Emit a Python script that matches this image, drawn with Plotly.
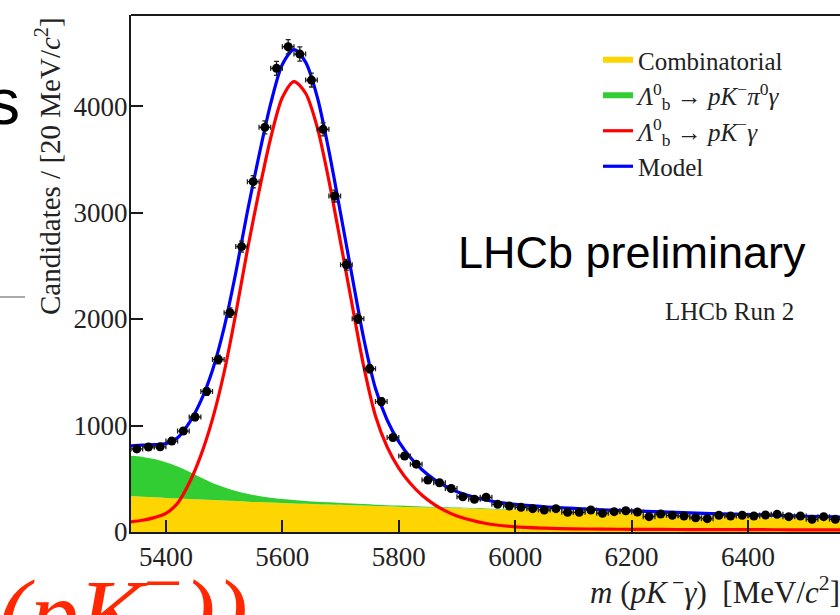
import numpy as np
import plotly.graph_objects as go

# ---------------- data ----------------
bin_centers = [5350, 5370, 5390, 5410, 5430, 5450, 5470, 5490, 5510, 5530,
               5550, 5570, 5590, 5610, 5630, 5650, 5670, 5690, 5710, 5730,
               5750, 5770, 5790, 5810, 5830, 5850, 5870, 5890, 5910, 5930,
               5950, 5970, 5990, 6010, 6030, 6050, 6070, 6090, 6110, 6130,
               6150, 6170, 6190, 6210, 6230, 6250, 6270, 6290, 6310, 6330,
               6350, 6370, 6390, 6410, 6430, 6450, 6470, 6490, 6510, 6530,
               6550]
counts = [780, 798, 800, 854, 948, 1080, 1320, 1620, 2060, 2680,
          3290, 3800, 4354, 4557, 4488, 4244, 3781, 3155, 2510, 2003,
          1533, 1225, 887, 714, 637, 488, 462, 408, 331, 308,
          326, 260, 244, 232, 219, 207, 219, 185, 185, 207,
          176, 191, 200, 188, 144, 169, 157, 150, 134, 125,
          157, 150, 157, 150, 160, 166, 144, 150, 119, 144,
          119]

model_x = [5340, 5360, 5380, 5400, 5420, 5440, 5460, 5480, 5500, 5520,
           5540, 5560, 5580, 5600, 5620, 5640, 5660, 5680, 5700, 5720,
           5740, 5760, 5780, 5800, 5820, 5840, 5860, 5880, 5900, 5950,
           6000, 6050, 6100, 6150, 6200, 6250, 6300, 6350, 6400, 6450,
           6500, 6550, 6600]
combinatorial = [338, 332, 326, 320, 315, 310, 305, 300, 295, 290,
                 285, 281, 276, 272, 268, 265, 261, 258, 255, 251,
                 248, 245, 241, 238, 235, 232, 229, 226, 224, 217,
                 208, 199, 190, 181, 172, 164, 156, 148, 141, 134,
                 127, 121, 115]
partially_reco = [377, 373, 359, 335, 300, 255, 207, 160, 125, 95,
                  75, 57, 46, 38, 32, 27, 24, 21, 18, 16,
                  14, 12, 11, 10, 9, 8, 7, 6, 5, 4,
                  3, 2, 2, 1, 1, 1, 1, 1, 1, 1,
                  1, 1, 1]
signal = [95, 110, 135, 175, 270, 460, 720, 1060, 1500, 2050,
          2650, 3200, 3700, 4080, 4230, 4120, 3800, 3300, 2720, 2130,
          1550, 1090, 800, 600, 455, 345, 262, 198, 150, 80,
          48, 36, 30, 27, 25, 24, 23, 22, 22, 21,
          20, 20, 19]

x_ticks = [5400, 5600, 5800, 6000, 6200, 6400]
y_ticks = [0, 1000, 2000, 3000, 4000]

# ---------------- figure ----------------
W, H = 840, 615
ML, MR, MT, MB = 131, 0, 15, 83
serif = "Liberation Serif"

comb = np.array(combinatorial, float)
part = np.array(partially_reco, float)
sig = np.array(signal, float)
model = comb + part + sig

fig = go.Figure()
fig.add_trace(go.Scatter(
    x=model_x, y=comb, mode="none", fill="tozeroy",
    fillcolor="rgb(255,213,0)", name="Combinatorial", line_shape="spline"))
fig.add_trace(go.Scatter(
    x=model_x, y=comb + part, mode="none", fill="tonexty",
    fillcolor="rgb(50,205,50)", line_shape="spline",
    name="<i>Λ</i><sup>0</sup><sub>b</sub> → <i>pK</i><sup>−</sup><i>π</i><sup>0</sup><i>γ</i>"))
fig.add_trace(go.Scatter(
    x=model_x, y=sig, mode="lines",
    line=dict(color="rgb(255,0,0)", width=3.2, shape="spline", smoothing=0.8),
    name="<i>Λ</i><sup>0</sup><sub>b</sub> → <i>pK</i><sup>−</sup><i>γ</i>"))
fig.add_trace(go.Scatter(
    x=model_x, y=model, mode="lines",
    line=dict(color="rgb(0,0,255)", width=3.2, shape="spline", smoothing=0.8),
    name="Model"))
fig.add_trace(go.Scatter(
    x=bin_centers, y=counts, mode="markers", showlegend=False,
    marker=dict(color="black", size=9),
    error_y=dict(type="data", array=np.sqrt(np.array(counts, float)), color="#222", thickness=1.3, width=2.5),
    error_x=dict(type="constant", value=10, color="#222", thickness=1.3, width=2.5)))

axis_common = dict(
    showline=True, linecolor="#1a1a1a", linewidth=2, ticks="inside", ticklen=12,
    tickwidth=2, tickcolor="#1a1a1a", showgrid=False, zeroline=False,
    tickfont=dict(family=serif, size=27, color="#222"))
fig.update_xaxes(range=[5340, 6558], tickvals=x_ticks, **axis_common)
fig.update_yaxes(range=[0, 4855], tickvals=y_ticks, ticklabelstandoff=-4, **axis_common)

# top frame line (right side is cropped in the reference)
fig.add_shape(type="line", xref="paper", yref="paper", x0=0, x1=1.01, y0=1, y1=1,
              line=dict(color="#1a1a1a", width=2))

def px_x(p):
    return (p - ML) / (W - ML - MR)

def px_y(p):
    return (H - MB - p) / (H - MT - MB)

ann = []
ann.append(dict(text="<i>m</i> (<i>pK</i><sup> −</sup><i>γ</i>)&nbsp; [MeV/<i>c</i><sup>2</sup>]",
                x=px_x(842), y=px_y(590), xanchor="right", yanchor="middle",
                font=dict(family=serif, size=31, color="#222")))
ann.append(dict(text="Candidates / [20 MeV/<i>c</i><sup>2</sup>]", textangle=-90,
                x=px_x(48), y=1.0, xanchor="center", yanchor="top",
                font=dict(family=serif, size=29, color="#222")))
ann.append(dict(text="LHCb preliminary", x=px_x(808), y=px_y(252), xanchor="right",
                yanchor="middle", font=dict(family="Liberation Sans", size=45, color="black")))
ann.append(dict(text="LHCb Run 2", x=px_x(796), y=px_y(311), xanchor="right",
                yanchor="middle", font=dict(family=serif, size=25, color="#222")))
# fragments of the surrounding slide
ann.append(dict(text="s", x=px_x(22), y=px_y(102), xanchor="right", yanchor="middle",
                font=dict(family="Liberation Sans", size=64, color="black")))
ann.append(dict(text="<i>(pK</i><sup>−</sup><i>))</i>", x=px_x(250), y=px_y(543),
                xanchor="right", yanchor="top",
                font=dict(family=serif, size=98, color="rgb(255,40,0)")))
for a in ann:
    a.update(xref="paper", yref="paper", showarrow=False)
fig.update_layout(annotations=ann)

fig.add_shape(type="line", xref="paper", yref="paper", x0=px_x(0), x1=px_x(25),
              y0=px_y(297), y1=px_y(297), line=dict(color="#aaaaaa", width=2))

fig.update_layout(
    width=W, height=H, autosize=False,
    margin=dict(l=ML, r=MR, t=MT, b=MB, pad=0),
    paper_bgcolor="white", plot_bgcolor="white",
    showlegend=True,
    legend=dict(x=px_x(598), y=px_y(37), xanchor="left", yanchor="top",
                traceorder="normal",
                bgcolor="rgba(0,0,0,0)", font=dict(family=serif, size=25, color="#222"),
                itemwidth=30, tracegroupgap=0),
)

fig.write_html("out.html")
